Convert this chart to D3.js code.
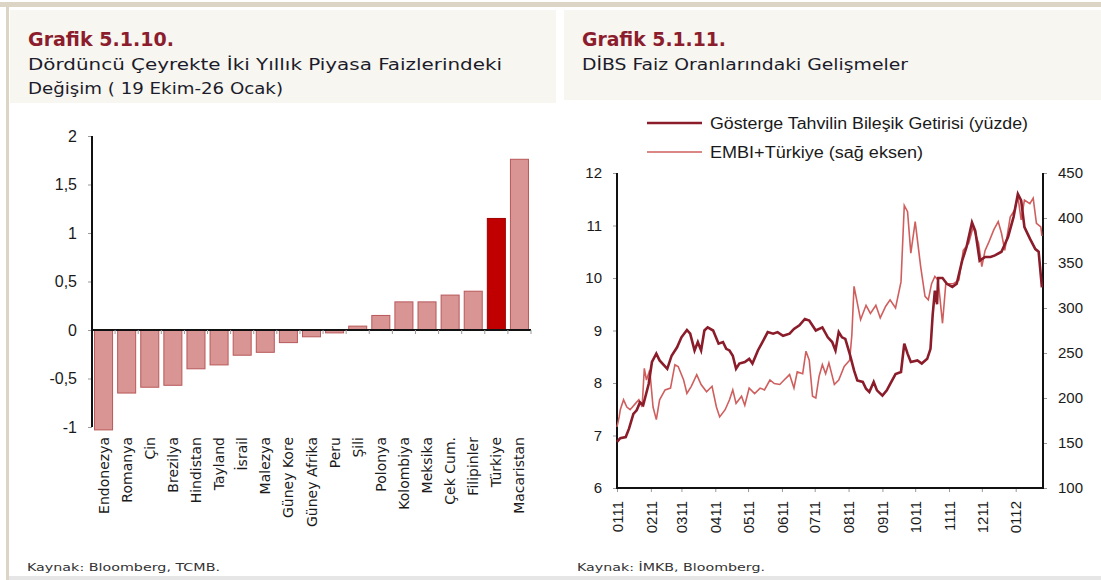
<!DOCTYPE html>
<html>
<head>
<meta charset="utf-8">
<script src="https://cdn.jsdelivr.net/npm/d3@7"></script>
<style>
  body { margin: 0; background: #fff; }
  svg { display: block; }
  .axis path, .axis line { stroke: #999; }
</style>
</head>
<body>
<div id="chart-area"></div>
<script>
// ---- data: Grafik 5.1.10 ----
let countries = ["Endonezya", "Romanya", "Çin", "Brezilya", "Hindistan", "Tayland", "İsrail",
    "Malezya", "Güney Kore", "Güney Afrika", "Peru", "Şili", "Polonya", "Kolombiya", "Meksika",
    "Çek Cum.", "Filipinler", "Türkiye", "Macaristan"];
let changes = [-1.03, -0.65, -0.59, -0.57, -0.40, -0.36, -0.26, -0.23, -0.13, -0.07, -0.03,
    0.04, 0.15, 0.29, 0.29, 0.36, 0.40, 1.15, 1.76];
let barTicks = [-1, -0.5, 0, 0.5, 1, 1.5, 2];

// ---- data: Grafik 5.1.11 (days since 1 Jan 2011) ----
let bondDays = [0, 3, 8, 11, 15, 18, 21, 24, 29, 32, 36, 39, 46, 50, 55, 59, 64, 67, 71, 74, 77, 80,
    83, 88, 93, 97, 100, 103, 106, 109, 112, 117, 121, 124, 129, 134, 138, 143, 147, 152, 158, 162,
    167, 172, 176, 182, 188, 193, 197, 200, 203, 206, 209, 213, 217, 220, 225, 228, 231, 235, 238,
    243, 247, 250, 255, 260, 263, 266, 269, 275, 279, 284, 287, 289, 291, 293, 294, 298, 302, 307,
    311, 316, 320, 325, 328, 332, 337, 342, 346, 352, 358, 363, 367, 370, 373, 378, 383, 386, 389];
let bondYield = [6.88, 6.95, 6.97, 7.13, 7.41, 7.48, 7.63, 7.58, 7.98, 8.40, 8.56, 8.43, 8.27, 8.52,
    8.68, 8.87, 9.01, 8.94, 8.62, 8.78, 8.62, 9.00, 9.06, 9.00, 8.75, 8.78, 8.65, 8.62, 8.52, 8.27,
    8.37, 8.40, 8.46, 8.37, 8.62, 8.81, 8.97, 8.94, 8.97, 8.90, 8.94, 9.03, 9.10, 9.22, 9.19, 9.00,
    9.06, 8.87, 8.78, 8.62, 8.97, 8.87, 8.84, 8.56, 8.24, 8.05, 8.02, 7.89, 7.83, 8.02, 7.86, 7.76,
    7.86, 7.98, 8.17, 8.21, 8.75, 8.56, 8.40, 8.43, 8.37, 8.46, 8.65, 9.30, 9.76, 9.50, 10.00, 10.00,
    9.89, 9.83, 9.89, 10.33, 10.59, 11.06, 10.90, 10.33, 10.40, 10.40, 10.43, 10.50, 10.78, 11.16,
    11.60, 11.48, 10.97, 10.75, 10.55, 10.50, 9.82];

let embiDays = [0, 2, 3, 6, 9, 12, 17, 20, 23, 25, 27, 30, 33, 36, 39, 44, 49, 53, 56, 61, 64, 68,
    73, 77, 82, 87, 91, 94, 99, 103, 106, 109, 114, 117, 121, 126, 131, 135, 140, 144, 149, 153,
    158, 162, 165, 170, 173, 176, 179, 182, 185, 188, 191, 194, 199, 203, 208, 213, 215, 217, 223,
    228, 232, 237, 241, 246, 250, 255, 260, 263, 266, 269, 273, 278, 282, 285, 288, 291, 294, 298,
    301, 304, 308, 313, 317, 322, 326, 331, 334, 337, 340, 345, 349, 352, 355, 360, 364, 367, 370,
    373, 378, 381, 384, 388, 389];
let embiSpread = [168, 179, 187, 198, 190, 187, 194, 198, 190, 233, 220, 231, 190, 176, 198, 209,
    211, 237, 235, 220, 205, 213, 226, 215, 207, 213, 190, 179, 187, 198, 209, 194, 202, 192, 211,
    205, 211, 209, 220, 216, 215, 220, 226, 211, 229, 227, 252, 242, 202, 200, 224, 237, 227, 239,
    215, 220, 235, 242, 270, 324, 287, 303, 294, 303, 289, 302, 309, 300, 329, 414, 407, 361, 396,
    346, 313, 309, 327, 335, 331, 283, 327, 327, 327, 331, 364, 372, 390, 372, 346, 364, 372, 387,
    396, 383, 364, 401, 409, 424, 398, 420, 416, 422, 394, 390, 380];

let leftTicks = [6, 7, 8, 9, 10, 11, 12];
let rightTicks = [100, 150, 200, 250, 300, 350, 400, 450];

let W = 1101, H = 580;
let titleColor = "#8c1d2d";
let textColor = "#1c1c2a";
let titleFont = "'DejaVu Sans', sans-serif";
let numFont = "'Liberation Sans', Arial, sans-serif";

let svg = d3.select("#chart-area")
    .append("svg")
    .attr("width", W)
    .attr("height", H);

// frame
svg.append("rect").attr("x", 0).attr("y", 2).attr("width", W).attr("height", 5).attr("fill", "#dcd4c4");
svg.append("rect").attr("x", 6).attr("y", 2).attr("width", 3).attr("height", H).attr("fill", "#dcd4c4");
svg.append("rect").attr("x", 9).attr("y", 576).attr("width", W).attr("height", 4).attr("fill", "#e6e6e6");
svg.append("rect").attr("x", 10).attr("y", 10).attr("width", 546).attr("height", 93).attr("fill", "#f7f6f1");
svg.append("rect").attr("x", 564).attr("y", 10).attr("width", W - 564).attr("height", 90).attr("fill", "#f7f6f1");

// titles
function addText(x, y, txt, size, color, len, weight) {
    let t = svg.append("text")
        .attr("x", x).attr("y", y)
        .attr("font-family", titleFont)
        .attr("font-size", size + "px")
        .attr("font-weight", weight || "normal")
        .attr("fill", color)
        .text(txt);
    if (len) t.attr("textLength", len).attr("lengthAdjust", "spacingAndGlyphs");
    return t;
}
addText(28, 46, "Grafik 5.1.10.", 20, titleColor, 146, "bold");
addText(28, 70, "Dördüncü Çeyrekte İki Yıllık Piyasa Faizlerindeki", 15, textColor, 474);
addText(28, 94, "Değişim ( 19 Ekim-26 Ocak)", 15, textColor, 255);
addText(582, 46, "Grafik 5.1.11.", 20, titleColor, 144, "bold");
addText(582, 70, "DİBS Faiz Oranlarındaki Gelişmeler", 15, textColor, 326);
addText(27, 571, "Kaynak: Bloomberg, TCMB.", 11, "#333", 193);
addText(577, 571, "Kaynak: İMKB, Bloomberg.", 11, "#333", 188);

let trLocale = d3.formatLocale({ decimal: ",", thousands: ".", grouping: [3], currency: ["", " TL"], minus: "-" });

// ================= Left chart: bars =================
let g1 = svg.append("g");

let x = d3.scaleBand()
    .domain(countries)
    .range([92, 531])
    .paddingInner(0.22)
    .paddingOuter(0.11);

let y = d3.scaleLinear()
    .domain([-1, 2])
    .range([427, 136]);

let yAxisCall = d3.axisLeft(y)
    .tickValues(barTicks)
    .tickSize(4)
    .tickPadding(11)
    .tickFormat(trLocale.format(""));
let yAx = g1.append("g")
    .attr("class", "y axis")
    .attr("transform", "translate(92,0)")
    .call(yAxisCall);
yAx.select(".domain").remove();
yAx.selectAll("text")
    .attr("font-family", numFont)
    .attr("font-size", "16px")
    .attr("fill", "#1a1a1a");

g1.selectAll("rect.bar")
    .data(countries)
    .enter()
    .append("rect")
    .attr("class", "bar")
    .attr("x", function(d){ return x(d); })
    .attr("width", x.bandwidth())
    .attr("y", function(d, i){ return y(Math.max(0, changes[i])); })
    .attr("height", function(d, i){ return Math.abs(y(changes[i]) - y(0)); })
    .attr("fill", function(d){ return d === "Türkiye" ? "#c00000" : "#d99594"; })
    .attr("stroke", function(d){ return d === "Türkiye" ? "#a00000" : "#b8585a"; })
    .attr("stroke-width", 1);

// y axis line
g1.append("line")
    .attr("x1", 92).attr("x2", 92)
    .attr("y1", y(2)).attr("y2", y(-1))
    .attr("stroke", "#111").attr("stroke-width", 2);

// zero line with ticks at category boundaries
g1.append("line")
    .attr("x1", 92).attr("x2", 531)
    .attr("y1", y(0)).attr("y2", y(0))
    .attr("stroke", "#111").attr("stroke-width", 2);
g1.selectAll("line.btick")
    .data(countries)
    .enter()
    .append("line")
    .attr("class", "btick")
    .attr("x1", function(d){ return x(d) + x.bandwidth() + x.step() * x.paddingInner() / 2; })
    .attr("x2", function(d){ return x(d) + x.bandwidth() + x.step() * x.paddingInner() / 2; })
    .attr("y1", y(0)).attr("y2", y(0) + 4)
    .attr("stroke", "#999");

// category labels
g1.selectAll("text.cat")
    .data(countries)
    .enter()
    .append("text")
    .attr("class", "cat")
    .attr("transform", function(d){
        return "translate(" + (x(d) + x.bandwidth() / 2 + 5) + ",437) rotate(-90)";
    })
    .attr("text-anchor", "end")
    .attr("font-family", titleFont)
    .attr("font-size", "14px")
    .attr("fill", "#1a1a1a")
    .text(function(d){ return d; });

// ================= Right chart: lines =================
let g2 = svg.append("g");
let t0 = new Date(2011, 0, 1);
function dayToDate(d) { return d3.timeDay.offset(t0, d); }

let xt = d3.scaleTime()
    .domain([t0, new Date(2012, 0, 26)])
    .range([617, 1043]);
let yl = d3.scaleLinear().domain([6, 12]).range([488, 173]);
let yr = d3.scaleLinear().domain([100, 450]).range([488, 173]);

let lAx = g2.append("g")
    .attr("class", "axis")
    .attr("transform", "translate(617,0)")
    .call(d3.axisLeft(yl).tickValues(leftTicks).tickSize(4).tickPadding(11).tickFormat(d3.format("d")));
let rAx = g2.append("g")
    .attr("class", "axis")
    .attr("transform", "translate(1043,0)")
    .call(d3.axisRight(yr).tickValues(rightTicks).tickSize(4).tickPadding(11).tickFormat(d3.format("d")));
let bAx = g2.append("g")
    .attr("class", "axis")
    .attr("transform", "translate(0,488)")
    .call(d3.axisBottom(xt).ticks(d3.timeMonth.every(1)).tickSize(4).tickFormat(d3.timeFormat("%m%y")));
[lAx, rAx, bAx].forEach(function(a){
    a.select(".domain").remove();
    a.selectAll("text")
        .attr("font-family", numFont)
        .attr("font-size", "15px")
        .attr("fill", "#1a1a1a");
});
bAx.selectAll("text")
    .attr("text-anchor", "end")
    .attr("transform", "translate(0,13) rotate(-90)")
    .attr("dy", "0.35em")
    .attr("x", 0).attr("y", 0);

g2.append("path")
    .attr("d", "M617," + yl(12) + "V488H1043V" + yl(12))
    .attr("fill", "none")
    .attr("stroke", "#111")
    .attr("stroke-width", 2);

let bondLine = d3.line()
    .x(function(d, i){ return xt(dayToDate(bondDays[i])); })
    .y(function(d){ return yl(d); });
let embiLine = d3.line()
    .x(function(d, i){ return xt(dayToDate(embiDays[i])); })
    .y(function(d){ return yr(d); });

g2.append("path")
    .datum(embiSpread)
    .attr("d", embiLine)
    .attr("fill", "none")
    .attr("stroke", "#cf5f5e")
    .attr("stroke-width", 1.6);
g2.append("path")
    .datum(bondYield)
    .attr("d", bondLine)
    .attr("fill", "none")
    .attr("stroke", "#8b1c2a")
    .attr("stroke-width", 2.6);

// legend
let legend = [
    { label: "Gösterge Tahvilin Bileşik Getirisi (yüzde)", color: "#8b1c2a", w: 2.6, len: 318 },
    { label: "EMBI+Türkiye (sağ eksen)", color: "#cf5f5e", w: 1.6, len: 213 }
];
legend.forEach(function(d, i){
    let ly = 123 + i * 29;
    svg.append("line")
        .attr("x1", 647).attr("x2", 702)
        .attr("y1", ly).attr("y2", ly)
        .attr("stroke", d.color).attr("stroke-width", d.w);
    svg.append("text")
        .attr("x", 710).attr("y", ly + 6)
        .attr("font-family", numFont)
        .attr("font-size", "16px")
        .attr("textLength", d.len)
        .attr("lengthAdjust", "spacingAndGlyphs")
        .attr("fill", "#1a1a1a")
        .text(d.label);
});
</script>
</body>
</html>
